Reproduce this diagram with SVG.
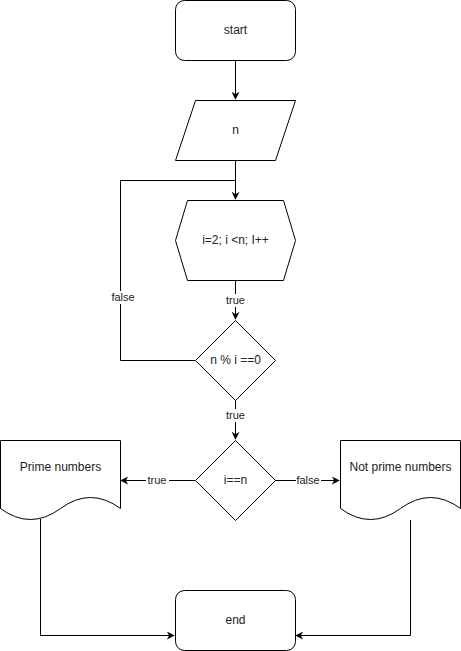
<svg xmlns="http://www.w3.org/2000/svg" width="461" height="651" viewBox="0 0 461 651">
<style>
.s{fill:#fff;stroke:#000;stroke-width:1}
.c{fill:none;stroke:#000;stroke-width:1}
.t{font-family:"Liberation Sans",Arial,sans-serif;font-size:12px;fill:#222;text-anchor:middle;dominant-baseline:central}
.l{font-family:"Liberation Sans",Arial,sans-serif;font-size:11px;fill:#222;text-anchor:middle;dominant-baseline:central}
.bg{fill:#fff;stroke:none}
</style>
<defs>
<marker id="a" viewBox="0 0 10 10" refX="9" refY="5" markerWidth="8" markerHeight="8" markerUnits="userSpaceOnUse" orient="auto">
<path d="M0,0 L10,5 L0,10 L3,5 Z" fill="#000"/>
</marker>
</defs>
<g id="connectors">
<path class="c" d="M235.5,60 V99" marker-end="url(#a)"/>
<path class="c" d="M235.5,160 V199" marker-end="url(#a)"/>
<path class="c" d="M195,360.5 H120.5 V180.5 H235.5"/>
<path class="c" d="M235.5,280 V319" marker-end="url(#a)"/>
<path class="c" d="M235.5,400 V439" marker-end="url(#a)"/>
<path class="c" d="M195,480.5 H121" marker-end="url(#a)"/>
<path class="c" d="M275,480.5 H339" marker-end="url(#a)"/>
<path class="c" d="M40.5,519 V635.5 H174" marker-end="url(#a)"/>
<path class="c" d="M410.5,520 V635.5 H296" marker-end="url(#a)"/>
<rect class="bg" x="111" y="291" width="25" height="13"/>
<text class="l" x="123" y="297">false</text>
<rect class="bg" x="224" y="294" width="23" height="13"/>
<text class="l" x="235.5" y="300">true</text>
<rect class="bg" x="224" y="409" width="23" height="13"/>
<text class="l" x="235.5" y="415">true</text>
<rect class="bg" x="146" y="474" width="23" height="13"/>
<text class="l" x="157" y="480">true</text>
<rect class="bg" x="296" y="474" width="25" height="13"/>
<text class="l" x="308" y="480">false</text>
</g>
<g id="start">
<rect class="s" x="175.5" y="0.5" width="120" height="60" rx="9"/>
<text class="t" x="235.5" y="30">start</text>
</g>
<g id="input-n">
<path class="s" d="M195.5,100.5 H295.5 L275.5,160.5 H175.5 Z"/>
<text class="t" x="235.5" y="130">n</text>
</g>
<g id="loop">
<path class="s" d="M175.5,240.5 L187.5,200.5 H283.5 L295.5,240.5 L283.5,280.5 H187.5 Z"/>
<text class="t" x="235.5" y="240">i=2; i &lt;n; I++</text>
</g>
<g id="mod-check">
<path class="s" d="M235.5,320.5 L275.5,360.5 L235.5,400.5 L195.5,360.5 Z"/>
<text class="t" x="235.5" y="360">n % i ==0</text>
</g>
<g id="eq-check">
<path class="s" d="M235.5,440.5 L275.5,480.5 L235.5,520.5 L195.5,480.5 Z"/>
<text class="t" x="235.5" y="480">i==n</text>
</g>
<g id="prime">
<path class="s" d="M0.5,440.5 H120.5 V508.5 Q90.5,486.5 60.5,508.5 Q30.5,530.5 0.5,508.5 Z"/>
<text class="t" x="60.5" y="467">Prime numbers</text>
</g>
<g id="not-prime">
<path class="s" d="M340.5,440.5 H460.5 V508.5 Q430.5,486.5 400.5,508.5 Q370.5,530.5 340.5,508.5 Z"/>
<text class="t" x="400.5" y="467">Not prime numbers</text>
</g>
<g id="end">
<rect class="s" x="175.5" y="590.5" width="120" height="60" rx="9"/>
<text class="t" x="235.5" y="620">end</text>
</g>
</svg>
